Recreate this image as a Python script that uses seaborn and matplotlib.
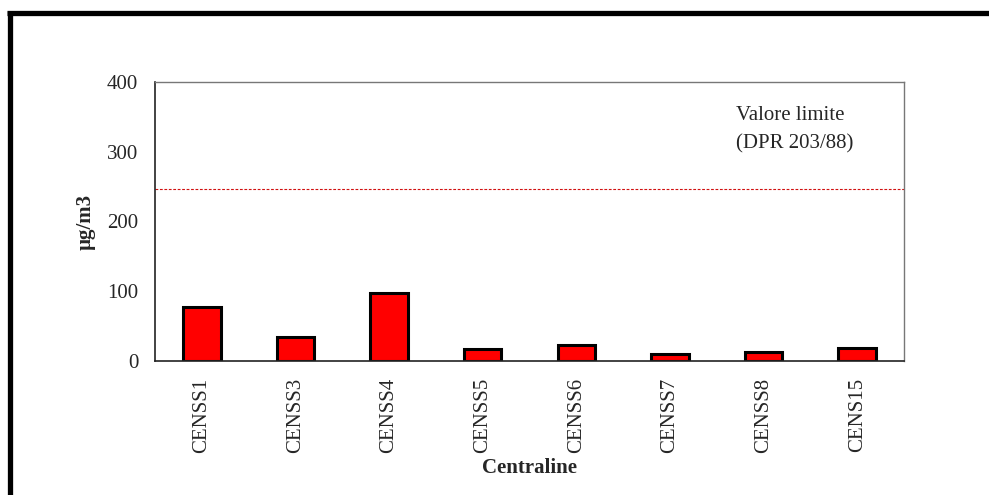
import matplotlib
matplotlib.use("Agg")
import matplotlib.pyplot as plt
import seaborn as sns
import pandas as pd
from matplotlib.lines import Line2D

categories = ["CENSS1", "CENSS3", "CENSS4", "CENSS5", "CENSS6", "CENSS7", "CENSS8", "CENS15"]
values = [78, 34, 97, 17, 23, 10, 13, 18]
limit_value = 247
y_ticks = [0, 100, 200, 300, 400]

sns.set_theme(style="white")
plt.rcParams['font.family'] = ['Liberation Serif', 'DejaVu Serif']

df = pd.DataFrame({"Centraline": categories, "val": values})

fig = plt.figure(figsize=(9.89, 4.95), dpi=100)
ax = fig.add_axes([155/989, 1 - 361/495, (904-155)/989, (361-82)/495])

sns.barplot(data=df, x="Centraline", y="val", color="#ff0000", width=0.4,
            edgecolor="black", linewidth=2.2, saturation=1, ax=ax)

ax.axhline(limit_value, color="#d01010", linestyle=(0, (2.5, 1.5)), linewidth=0.8)

ax.set_ylim(0, 400)
ax.set_xlim(-0.5, len(categories) - 0.5)
ax.set_yticks(y_ticks)
ax.set_yticklabels([str(t) for t in y_ticks], fontsize=15)
ax.set_xticks(range(len(categories)))
ax.set_xticklabels(categories, rotation=90, fontsize=15)
ax.tick_params(axis='x', length=0, pad=12)
ax.tick_params(axis='y', length=0, pad=12)

ax.set_ylabel("µg/m3", fontsize=15, fontweight="bold", labelpad=8)
ax.set_xlabel("Centraline", fontsize=15, fontweight="bold", labelpad=4)

for side in ["left", "bottom"]:
    ax.spines[side].set_color("#222222")
    ax.spines[side].set_linewidth(1.2)
for side in ["top", "right"]:
    ax.spines[side].set_color("#777777")
    ax.spines[side].set_linewidth(1.0)

ax.text(0.776, 0.915, "Valore limite\n(DPR 203/88)", transform=ax.transAxes,
        ha="left", va="top", fontsize=15, linespacing=1.7)

# Figure frame: thick top and left border
fig.add_artist(Line2D([7/989, 1], [1 - 12.5/495, 1 - 12.5/495], color="black",
                      linewidth=3.8, solid_capstyle="butt", transform=fig.transFigure))
fig.add_artist(Line2D([9.5/989, 9.5/989], [0, 1 - 10.6/495], color="black",
                      linewidth=3.8, solid_capstyle="butt", transform=fig.transFigure))

fig.savefig("out.png", dpi=100)
